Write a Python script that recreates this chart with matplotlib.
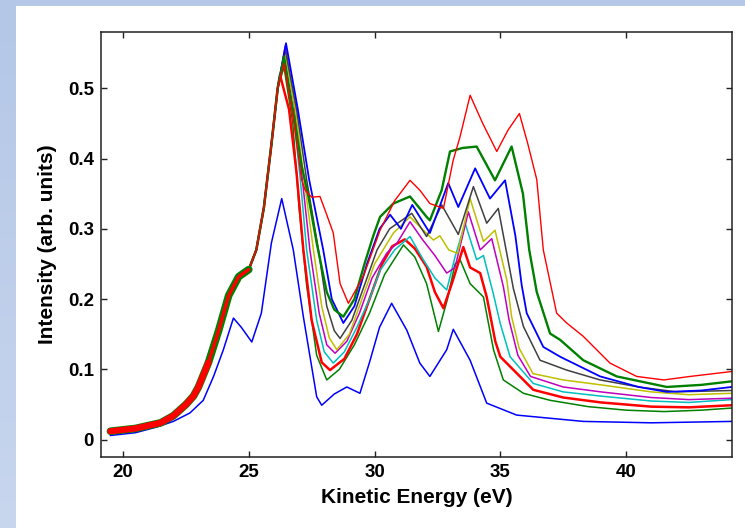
import numpy as np
import matplotlib
matplotlib.use("Agg")
import matplotlib.pyplot as plt

# shared rising edge (all spectra except the lowest one overlap here)
lead_e = [19.5, 20.5, 21.5, 22.0, 22.5, 22.8, 23.0, 23.4, 23.8, 24.2, 24.6, 25.0, 25.3, 25.6, 25.9, 26.15]
lead_i = [0.012, 0.016, 0.024, 0.034, 0.05, 0.062, 0.075, 0.11, 0.155, 0.205, 0.232, 0.242, 0.27, 0.33, 0.42, 0.50]

# spectrum 1 (blue, lowest)
e1 = [19.5, 20.5, 21.34, 22.0, 22.66, 23.19, 23.6, 23.99, 24.39, 24.7, 25.12, 25.5, 25.9, 26.31,
      26.77, 27.17, 27.7, 27.9, 28.4, 28.9, 29.42, 29.8, 30.2, 30.68, 31.28, 31.8, 32.2, 32.87,
      33.13, 33.8, 34.46, 35.65, 38.3, 41.0, 44.2]
i1 = [0.006, 0.01, 0.018, 0.026, 0.038, 0.056, 0.09, 0.128, 0.173, 0.16, 0.139, 0.18, 0.28, 0.343,
      0.27, 0.175, 0.061, 0.049, 0.065, 0.075, 0.066, 0.11, 0.16, 0.194, 0.156, 0.109, 0.09, 0.128,
      0.157, 0.113, 0.052, 0.035, 0.026, 0.024, 0.026]

# spectrum 2 (green, thin)
e2 = [26.4, 26.75, 27.0, 27.3, 27.7, 28.1, 28.6, 29.2, 29.8, 30.4, 31.15, 31.6, 32.07, 32.54,
      32.9, 33.2, 33.4, 33.8, 34.33, 34.73, 35.12, 35.92, 36.98, 38.5, 40.0, 41.5, 43.0, 44.2]
i2 = [0.53, 0.45, 0.33, 0.22, 0.12, 0.085, 0.1, 0.135, 0.18, 0.235, 0.277, 0.26, 0.222, 0.154,
      0.2, 0.25, 0.256, 0.222, 0.203, 0.128, 0.085, 0.066, 0.056, 0.047, 0.042, 0.04, 0.042, 0.045]

# spectrum 3 (red, thick)
e3 = [26.24, 26.6, 26.9, 27.17, 27.5, 27.9, 28.23, 28.8, 29.3, 29.8, 30.3, 30.7, 31.2, 31.6,
      32.07, 32.4, 32.74, 33.1, 33.53, 33.8, 34.2, 34.46, 34.8, 35.0, 35.39, 36.31, 37.5, 39.0,
      41.0, 42.5, 44.2]
i3 = [0.519, 0.47, 0.38, 0.27, 0.17, 0.11, 0.099, 0.115, 0.15, 0.2, 0.25, 0.275, 0.285, 0.272,
      0.246, 0.21, 0.187, 0.225, 0.274, 0.245, 0.237, 0.203, 0.14, 0.118, 0.104, 0.071, 0.06, 0.053,
      0.047, 0.046, 0.049]

# spectrum 4 (cyan)
e4 = [26.4, 26.75, 27.05, 27.3, 27.7, 28.0, 28.36, 28.8, 29.3, 29.8, 30.22, 30.8, 31.41, 31.94,
      32.4, 32.87, 33.2, 33.6, 34.06, 34.33, 34.72, 35.0, 35.39, 36.31, 37.5, 39.0, 41.0, 42.5, 44.2]
i4 = [0.545, 0.47, 0.37, 0.27, 0.17, 0.125, 0.109, 0.125, 0.16, 0.2, 0.241, 0.27, 0.289, 0.256,
      0.23, 0.213, 0.26, 0.308, 0.256, 0.262, 0.208, 0.165, 0.118, 0.08, 0.068, 0.062, 0.055, 0.053, 0.057]

# spectrum 5 (magenta)
e5 = [26.45, 26.8, 27.1, 27.43, 27.8, 28.1, 28.43, 28.9, 29.4, 29.9, 30.48, 30.9, 31.41, 31.9,
      32.4, 32.87, 33.2, 33.73, 34.2, 34.66, 35.12, 35.35, 35.7, 36.2, 37.5, 39.0, 41.0, 42.5, 44.2]
i5 = [0.56, 0.48, 0.38, 0.27, 0.18, 0.135, 0.123, 0.14, 0.18, 0.23, 0.265, 0.28, 0.31, 0.285,
      0.262, 0.237, 0.245, 0.324, 0.27, 0.286, 0.218, 0.17, 0.12, 0.09, 0.075, 0.068, 0.06, 0.057, 0.059]

# spectrum 6 (yellow)
e6 = [26.45, 26.85, 27.2, 27.57, 27.9, 28.2, 28.5, 29.0, 29.5, 30.0, 30.75, 31.41, 31.94, 32.34,
      32.6, 32.95, 33.3, 33.8, 34.33, 34.79, 35.26, 35.45, 35.75, 36.3, 37.5, 39.0, 41.0, 42.5, 44.2]
i6 = [0.55, 0.47, 0.37, 0.27, 0.19, 0.145, 0.128, 0.15, 0.2, 0.25, 0.294, 0.317, 0.298, 0.284,
      0.29, 0.27, 0.265, 0.343, 0.282, 0.298, 0.227, 0.175, 0.13, 0.094, 0.085, 0.078, 0.068, 0.064, 0.066]

# spectrum 7 (dark grey)
e7 = [26.45, 26.9, 27.3, 27.77, 28.1, 28.4, 28.63, 29.1, 29.6, 30.1, 30.6, 31.0, 31.48, 32.07,
      32.67, 33.33, 33.93, 34.46, 34.92, 35.52, 35.92, 36.58, 37.64, 38.97, 40.5, 42.0, 44.2]
i7 = [0.555, 0.47, 0.37, 0.27, 0.19, 0.155, 0.144, 0.17, 0.22, 0.27, 0.3, 0.31, 0.322, 0.289,
      0.334, 0.292, 0.36, 0.308, 0.329, 0.215, 0.161, 0.113, 0.099, 0.085, 0.075, 0.068, 0.07]

# spectrum 8 (blue)
e8 = [26.48, 26.95, 27.4, 27.96, 28.3, 28.76, 29.2, 29.7, 30.2, 30.62, 31.05, 31.5, 32.2, 32.93,
      33.33, 34.0, 34.59, 35.19, 35.6, 35.85, 36.05, 36.71, 37.38, 38.97, 40.5, 41.62, 43.0, 44.2]
i8 = [0.564, 0.47, 0.37, 0.27, 0.2, 0.166, 0.19, 0.25, 0.3, 0.32, 0.3, 0.334, 0.294, 0.365,
      0.331, 0.386, 0.343, 0.369, 0.29, 0.22, 0.18, 0.132, 0.118, 0.09, 0.075, 0.068, 0.07, 0.075]

# spectrum 9 (green, thick)
e9 = [26.4, 26.8, 27.1, 27.37, 27.7, 28.1, 28.4, 28.76, 29.2, 29.6, 29.95, 30.22, 30.75, 31.41,
      32.07, 32.2, 32.67, 33.0, 33.5, 34.06, 34.79, 35.45, 35.9, 36.15, 36.45, 36.98, 37.38, 38.3,
      39.63, 41.62, 43.0, 44.2]
i9 = [0.545, 0.46, 0.39, 0.346, 0.28, 0.21, 0.185, 0.175, 0.2, 0.25, 0.29, 0.317, 0.336, 0.346,
      0.317, 0.312, 0.355, 0.41, 0.415, 0.417, 0.369, 0.417, 0.35, 0.27, 0.21, 0.151, 0.142, 0.113,
      0.09, 0.075, 0.078, 0.083]

# spectrum 10 (red, thin, most shifted)
e10 = [26.4, 26.8, 27.1, 27.24, 27.5, 27.83, 28.1, 28.36, 28.63, 28.96, 29.55, 30.22, 30.8, 31.41,
       31.8, 32.2, 32.74, 33.13, 33.4, 33.8, 34.3, 34.86, 35.3, 35.76, 36.1, 36.45, 36.71, 37.24,
       37.64, 38.3, 39.36, 40.42, 41.5, 42.55, 44.2]
i10 = [0.535, 0.45, 0.37, 0.355, 0.345, 0.346, 0.32, 0.294, 0.222, 0.194, 0.232, 0.298, 0.34, 0.369,
       0.355, 0.336, 0.329, 0.398, 0.431, 0.49, 0.45, 0.41, 0.44, 0.464, 0.42, 0.37, 0.27, 0.18,
       0.166, 0.147, 0.109, 0.09, 0.085, 0.09, 0.097]

x_ticks = [20, 25, 30, 35, 40]
y_ticks = [0, 0.1, 0.2, 0.3, 0.4, 0.5]
y_tick_labels = ["0", "0.1", "0.2", "0.3", "0.4", "0.5"]

blue = "#0000ff"
green = "#008000"
red = "#ff0000"
spectra = [
    (e1, i1, blue, 1.1, False),
    (e2, i2, green, 1.1, True),
    (e3, i3, red, 1.8, True),
    (e4, i4, "#00bfbf", 1.1, True),
    (e5, i5, "#bf00bf", 1.1, True),
    (e6, i6, "#bfbf00", 1.1, True),
    (e7, i7, "#404040", 1.1, True),
    (e8, i8, blue, 1.3, True),
    (e9, i9, green, 1.7, True),
    (e10, i10, red, 1.0, True),
]

plt.rcParams["font.family"] = ["Liberation Sans", "DejaVu Sans"]
plt.rcParams["font.weight"] = "bold"

fig = plt.figure(figsize=(7.45, 5.28), dpi=100, facecolor="white")

# slide-like blue border on top and left
bg = fig.add_axes([0, 0, 1, 1], zorder=-10)
bg.set_xlim(0, 745)
bg.set_ylim(528, 0)
bg.axis("off")
grad = np.linspace(0, 1, 100).reshape(-1, 1)
top_col = np.array([0.706, 0.780, 0.906])
bot_col = np.array([0.784, 0.839, 0.933])
img = top_col + grad[..., None] * (bot_col - top_col)
bg.imshow(img, extent=(0, 16, 528, 0), aspect="auto")
bg.add_patch(plt.Rectangle((0, 0), 745, 6, color=top_col, lw=0))

ax = fig.add_axes([101 / 745, 1 - 456.7 / 528, 630.7 / 745, 425 / 528])

for e, inten, col, lw, with_lead in spectra:
    if with_lead:
        xs = lead_e + e
        ys = lead_i + inten
    else:
        xs, ys = e, inten
    ax.plot(xs, ys, color=col, lw=lw)

# the noisy low-energy onset looks like a broad green/red band on top
ax.plot(lead_e[:12], lead_i[:12], color=green, lw=5.5, solid_capstyle="round", zorder=3)
ax.plot(lead_e[:8], lead_i[:8], color=red, lw=4.5, solid_capstyle="round", zorder=3)
ax.plot(lead_e[7:12], lead_i[7:12], color=red, lw=2.5, solid_capstyle="round", zorder=3)

ax.set_xlim(19.125, 44.2)
ax.set_ylim(-0.0242, 0.5804)
ax.set_xticks(x_ticks)
ax.set_yticks(y_ticks)
ax.set_yticklabels(y_tick_labels)
ax.tick_params(direction="in", length=4.5, width=1, top=True, right=True,
               labelsize=13.5, color="#222222", pad=5)
for s in ax.spines.values():
    s.set_linewidth(1.1)
    s.set_color("#222222")
ax.set_xlabel("Kinetic Energy (eV)", fontsize=15, fontweight="bold", labelpad=5)
ax.set_ylabel("Intensity (arb. units)", fontsize=15, fontweight="bold", labelpad=8)

fig.savefig("out.png", dpi=100, facecolor="white")
